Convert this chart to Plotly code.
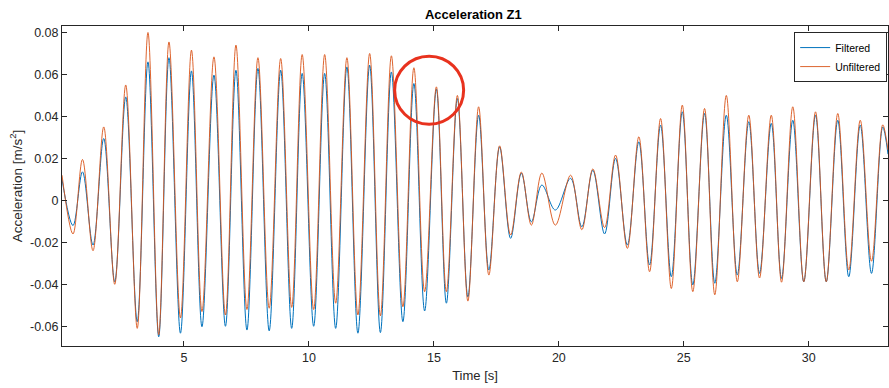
import plotly.graph_objects as go

# Extreme points (peaks / troughs), time in s
time_s = [0.12, 0.56, 0.94, 1.36, 1.79, 2.23, 2.67, 3.13, 3.56, 3.99, 4.40, 4.86, 5.30, 5.72,
          6.20, 6.66, 7.08, 7.52, 7.96, 8.41, 8.87, 9.31, 9.73, 10.19, 10.63, 11.07, 11.52,
          11.96, 12.43, 12.86, 13.30, 13.76, 14.20, 14.63, 15.10, 15.50, 15.94, 16.36, 16.79,
          17.20, 17.63, 18.07, 18.50, 18.90, 19.32, 19.86, 20.47, 20.92, 21.36, 21.83, 22.27,
          22.74, 23.20, 23.63, 24.07, 24.50, 24.94, 25.36, 25.83, 26.24, 26.70, 27.14, 27.60,
          28.03, 28.50, 28.91, 29.36, 29.80, 30.27, 30.70, 31.16, 31.60, 32.06, 32.51, 32.96, 33.17]

filtered = [0.010, -0.012, 0.0136, -0.0213, 0.0295, -0.0388, 0.0493, -0.0578, 0.066, -0.065,
            0.068, -0.0633, 0.0617, -0.0602, 0.0597, -0.060, 0.062, -0.0618, 0.0629, -0.0622,
            0.062, -0.061, 0.0605, -0.060, 0.0605, -0.061, 0.0636, -0.0633, 0.0644, -0.063,
            0.0612, -0.0578, 0.0557, -0.0527, 0.053, -0.049, 0.0485, -0.046, 0.0406, -0.0332,
            0.0255, -0.0181, 0.0129, -0.0102, 0.0073, -0.0046, 0.0105, -0.0126, 0.0144, -0.0160,
            0.020, -0.0213, 0.0279, -0.0308, 0.0359, -0.0364, 0.0422, -0.0403, 0.0414, -0.0395,
            0.0406, -0.0356, 0.0375, -0.0348, 0.0367, -0.0372, 0.0382, -0.0388, 0.0406, -0.0388,
            0.0382, -0.0364, 0.0359, -0.0348, 0.035, 0.022]

unfiltered = [0.012, -0.016, 0.0195, -0.024, 0.035, -0.040, 0.055, -0.061, 0.080, -0.064,
              0.0755, -0.056, 0.0716, -0.053, 0.0684, -0.0546, 0.074, -0.052, 0.068, -0.0514,
              0.0676, -0.051, 0.0695, -0.052, 0.0695, -0.049, 0.068, -0.0546, 0.070, -0.055,
              0.0689, -0.0507, 0.0632, -0.0435, 0.0541, -0.0435, 0.050, -0.048, 0.0446, -0.0356,
              0.026, -0.0165, 0.0135, -0.0118, 0.0130, -0.0118, 0.012, -0.014, 0.015, -0.013,
              0.0216, -0.0229, 0.0303, -0.034, 0.039, -0.042, 0.0454, -0.0435, 0.0438, -0.045,
              0.050, -0.0388, 0.0406, -0.037, 0.0406, -0.039, 0.0446, -0.0388, 0.0422, -0.0388,
              0.0414, -0.0332, 0.0382, -0.029, 0.036, 0.024]

x_ticks = [5, 10, 15, 20, 25, 30]
y_ticks = [-0.06, -0.04, -0.02, 0, 0.02, 0.04, 0.06, 0.08]
y_tick_labels = ["-0.06", "-0.04", "-0.02", "0", "0.02", "0.04", "0.06", "0.08"]

# highlight ellipse (data coordinates)
circle_x = (13.43, 16.19)
circle_y = (0.0363, 0.0687)

BLUE = "#0072BD"
ORANGE = "#D95319"
AX = "#262626"

fig = go.Figure()
fig.add_trace(go.Scatter(x=time_s, y=filtered, mode="lines", name="Filtered",
                         line=dict(color=BLUE, width=1, shape="spline", smoothing=1.0)))
fig.add_trace(go.Scatter(x=time_s, y=unfiltered, mode="lines", name="Unfiltered",
                         line=dict(color=ORANGE, width=0.9, shape="spline", smoothing=1.0)))

fig.add_shape(type="circle", xref="x", yref="y",
              x0=circle_x[0], x1=circle_x[1], y0=circle_y[0], y1=circle_y[1],
              line=dict(color="#E8321E", width=3))

font_family = "Liberation Sans, Arial, sans-serif"
fig.update_layout(
    width=889, height=388,
    margin=dict(l=62, r=1, t=26, b=42),
    paper_bgcolor="white", plot_bgcolor="white",
    font=dict(family=font_family, size=12, color=AX),
    title=dict(text="<b>Acceleration Z1</b>", x=0.5325, xanchor="center",
               y=0.962, yanchor="middle", font=dict(size=13, color="#000000")),
    showlegend=True,
    legend=dict(x=0.999, xanchor="right", y=0.981, yanchor="top",
                bgcolor="white", bordercolor=AX, borderwidth=1,
                font=dict(size=10.5, color="#000000"),
                itemwidth=30, tracegroupgap=0),
    xaxis=dict(range=[0.12, 33.17], tickvals=x_ticks, ticks="inside", ticklen=5,
               tickcolor=AX, showline=True, linecolor=AX, linewidth=1, mirror="ticks",
               showgrid=False, zeroline=False, tickfont=dict(size=12.5, color=AX),
               title=dict(text="Time [s]", font=dict(size=13, color=AX), standoff=6)),
    yaxis=dict(range=[-0.0694, 0.0831], tickvals=y_ticks, ticktext=y_tick_labels,
               ticks="inside", ticklen=5, tickcolor=AX, showline=True, linecolor=AX,
               linewidth=1, mirror="ticks", showgrid=False, zeroline=False,
               tickfont=dict(size=12.5, color=AX),
               title=dict(text="Acceleration [m/s<sup>2</sup>]", font=dict(size=13.5, color=AX),
                          standoff=4)),
)

fig.write_html("out.html")
